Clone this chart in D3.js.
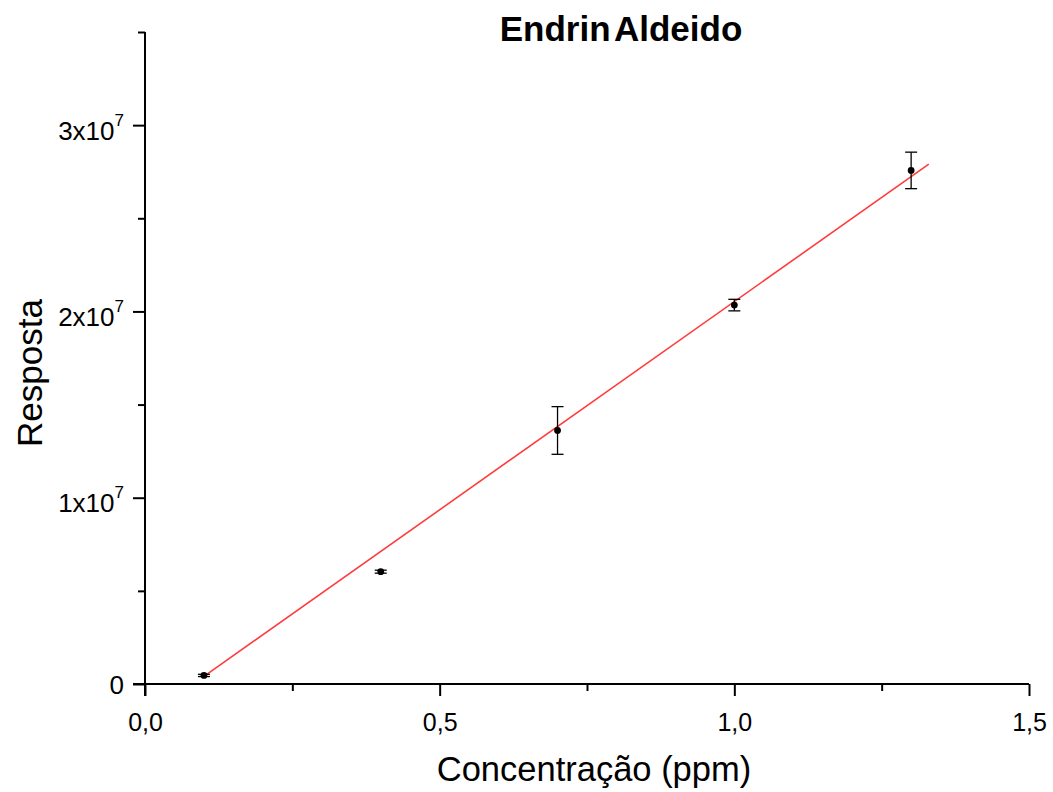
<!DOCTYPE html>
<html>
<head>
<meta charset="utf-8">
<script src="https://cdn.jsdelivr.net/npm/d3@7"></script>
<style>
  html, body { margin: 0; padding: 0; background: #fff; }
  svg { display: block; font-family: "Liberation Sans", Arial, sans-serif; }
</style>
</head>
<body>
<svg id="chart" width="1053" height="792"></svg>
<script>
// Calibration data: concentration (ppm), mean response, standard deviation
const concentration = [0.1, 0.4, 0.7, 1.0, 1.3];
const response      = [4.6e5, 6.03e6, 1.361e7, 2.034e7, 2.757e7];
const responseSD    = [6e4, 8e4, 1.28e6, 3.1e5, 9.8e5];

// Linear fit: response = slope * concentration + intercept
const fitSlope = 2.2355e7;
const fitIntercept = -1.826e6;
const fitRange = [0.1, 1.33];

const xMajorTicks = [0, 0.5, 1.0, 1.5];
const xMinorTicks = [0.25, 0.75, 1.25];
const yMajorTicks = [0, 1e7, 2e7, 3e7];
const yMinorTicks = [0.5e7, 1.5e7, 2.5e7, 3.5e7];

const titleText = "Endrin Aldeido";
const xTitle = "Concentração (ppm)";
const yTitle = "Resposta";

const svg = d3.select("#chart");

const x = d3.scaleLinear().domain([0, 1.5]).range([145, 1029]);
const y = d3.scaleLinear().domain([0, 3.5e7]).range([684, 32]);

const x0 = x(0), y0 = y(0);

// minor ticks
svg.append("g")
  .attr("transform", `translate(0,${y0})`)
  .call(d3.axisBottom(x).tickValues(xMinorTicks).tickSize(7).tickSizeOuter(0).tickFormat(""))
  .call(g => g.select(".domain").remove());
svg.append("g")
  .attr("transform", `translate(${x0},0)`)
  .call(d3.axisLeft(y).tickValues(yMinorTicks).tickSize(7).tickSizeOuter(0).tickFormat(""))
  .call(g => g.select(".domain").remove());

// x axis
const fmtComma = d => d3.format(".1f")(d).replace(".", ",");
const gx = svg.append("g")
  .attr("transform", `translate(0,${y0})`)
  .call(d3.axisBottom(x).tickValues(xMajorTicks).tickSize(12).tickSizeOuter(0)
    .tickPadding(0).tickFormat(fmtComma));
gx.selectAll(".tick text")
  .attr("y", 47).attr("dy", null)
  .attr("font-size", 25).attr("fill", "#000");

// y axis with superscript exponents
const gy = svg.append("g")
  .attr("transform", `translate(${x0},0)`)
  .call(d3.axisLeft(y).tickValues(yMajorTicks).tickSize(12).tickSizeOuter(0)
    .tickPadding(0).tickFormat(""));
gy.selectAll(".tick text").remove();
gy.selectAll(".tick").each(function(d) {
  const t = d3.select(this).append("text")
    .attr("text-anchor", "end")
    .attr("x", -21)
    .attr("fill", "#000")
    .attr("font-size", 26);
  if (d === 0) {
    t.attr("y", 9).text("0");
  } else {
    t.attr("y", 14);
    t.append("tspan").text(d3.format("d")(d / 1e7) + "x10");
    t.append("tspan").attr("font-size", 17).attr("dy", -14).text("7");
  }
});

svg.selectAll("g line").attr("stroke", "#000").attr("stroke-width", 2);
[gx, gy].forEach(g => g.select(".domain").attr("stroke", "#000").attr("stroke-width", 2));

// domain lines drawn to extend through the corner ticks
gx.select(".domain").attr("d", `M${x0 - 12},0H${x(1.5)}`);
gy.select(".domain").attr("d", `M0,${y0 + 12}V${y(3.5e7)}`);

// fitted line
const fitPts = fitRange.map(c => [c, fitSlope * c + fitIntercept]);
svg.append("path")
  .datum(fitPts)
  .attr("fill", "none")
  .attr("stroke", "#ff3c3c")
  .attr("stroke-width", 1.6)
  .attr("d", d3.line().x(d => x(d[0])).y(d => y(d[1])));

// error bars and points
const pts = concentration.map((c, i) => ({c, r: response[i], sd: responseSD[i]}));
const eb = svg.append("g").attr("stroke", "#000").attr("stroke-width", 1.3);
pts.forEach(p => {
  const cx = x(p.c), top = y(p.r + p.sd), bot = y(p.r - p.sd);
  eb.append("line").attr("x1", cx).attr("x2", cx).attr("y1", top).attr("y2", bot);
  eb.append("line").attr("x1", cx - 6).attr("x2", cx + 6).attr("y1", top).attr("y2", top);
  eb.append("line").attr("x1", cx - 6).attr("x2", cx + 6).attr("y1", bot).attr("y2", bot);
});
svg.append("g").selectAll("circle").data(pts).join("circle")
  .attr("cx", d => x(d.c)).attr("cy", d => y(d.r)).attr("r", 3.4).attr("fill", "#000");

// titles
svg.append("text")
  .attr("x", 621).attr("y", 41)
  .attr("text-anchor", "middle")
  .attr("font-weight", "bold").attr("font-size", 35)
  .attr("word-spacing", -5)
  .text(titleText);

svg.append("text")
  .attr("x", 594).attr("y", 781)
  .attr("text-anchor", "middle").attr("font-size", 34.5)
  .text(xTitle);

svg.append("text")
  .attr("transform", "translate(42,373) rotate(-90)")
  .attr("text-anchor", "middle").attr("font-size", 35)
  .text(yTitle);
</script>
</body>
</html>
